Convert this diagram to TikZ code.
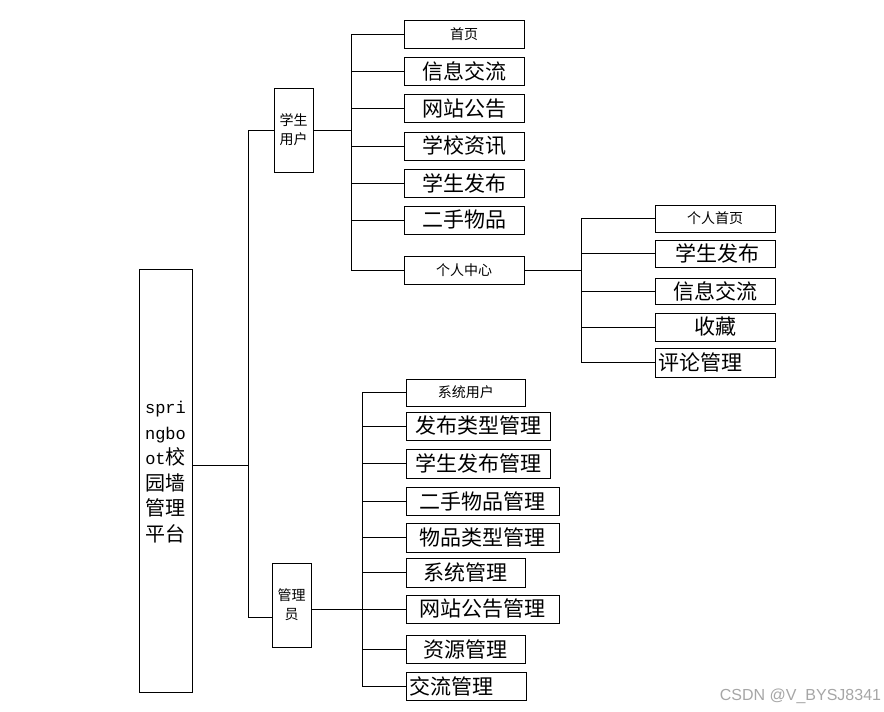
\documentclass[tikz,border=0pt]{standalone}
\usepackage{fontspec}
\newfontfamily\cjk{Noto Sans CJK SC}
\newfontfamily\wmfont{Liberation Sans}
\setmonofont{Liberation Mono}
\newcommand\bigzh{\cjk\fontsize{21}{21}\selectfont}
\newcommand\smallzh{\cjk\fontsize{14}{19}\selectfont}
\newcommand\lat[1]{{\ttfamily\fontsize{17}{25.5}\selectfont #1}}
\begin{document}
\begin{tikzpicture}[x=1pt,y=-1pt,line width=0.9pt,
	box/.style={draw,inner sep=0pt,minimum width=120pt,minimum height=28pt,font=\bigzh},
	smallbox/.style={box,font=\smallzh},
	tallbox/.style={draw,inner sep=0pt,minimum width=39pt,minimum height=84pt,align=center,font=\smallzh},
	leftbox/.style={box,text width=114pt,inner xsep=3pt,align=left},
	adminbox/.style={box,anchor=west}]
	\useasboundingbox (0,0) rectangle (884,712);
	\node[draw,minimum width=53pt,minimum height=423pt] (root) at (165.5,481) {};
	\node[align=center,font=\cjk\fontsize{20}{25.5}\selectfont] (roottxt) at (165.5,472) {\lat{spri}\\\lat{ngbo}\\\lat{ot}校\\园墙\\管理\\平台};
	\node[tallbox] (stu) at (293.5,130) {学生\\用户};
	\node[tallbox] (adm) at (291.5,605) {管理\\员};
	\node[smallbox] (s1) at (464,34) {首页};
	\node[box] (s2) at (464,71.5) {信息交流};
	\node[box] (s3) at (464,108.5) {网站公告};
	\node[box] (s4) at (464,146) {学校资讯};
	\node[box] (s5) at (464,183.5) {学生发布};
	\node[box] (s6) at (464,220) {二手物品};
	\node[smallbox] (pc) at (464,270) {个人中心};
	\node[smallbox,minimum height=27pt] (p1) at (715,218.5) {个人首页};
	\node[box,minimum height=27pt] (p2) at (715,253.5) {\hspace{4pt}学生发布};
	\node[box,minimum height=26pt] (p3) at (715,291) {信息交流};
	\node[box] (p4) at (715,327) {收藏};
	\node[leftbox,minimum height=29pt] (p5) at (715,362.5) {评论管理};
	\node[adminbox,smallbox,minimum width=119pt,minimum height=27pt] (a1) at (406,392.5) {系统用户};
	\node[adminbox,minimum width=144pt] (a2) at (406,426) {发布类型管理};
	\node[adminbox,minimum width=144pt,minimum height=29pt] (a3) at (406,463.5) {学生发布管理};
	\node[adminbox,minimum width=153pt] (a4) at (406,501) {二手物品管理};
	\node[adminbox,minimum width=153pt,minimum height=29pt] (a5) at (406,537.5) {物品类型管理};
	\node[adminbox,minimum width=119pt,minimum height=29pt] (a6) at (406,572.5) {系统管理};
	\node[adminbox,minimum width=153pt] (a7) at (406,609) {网站公告管理};
	\node[adminbox,minimum width=119pt] (a8) at (406,649) {资源管理};
	\node[adminbox,leftbox,text width=113pt] (a9) at (406,686) {交流管理};
	\node[font=\wmfont\fontsize{16}{16}\selectfont,text=black!35] (wm) at (800.5,696) {CSDN @V\_BYSJ8341};
	\coordinate (rj) at (248.5,465);
	\coordinate (sj) at (351,130);
	\coordinate (pj) at (581,270);
	\coordinate (aj) at (362,609);
	\draw (root.east |- rj) -- (rj);
	\draw (stu.west) -| (rj) |- ([yshift=-12pt]adm.west);
	\draw (stu.east) -- (sj);
	\foreach \n in {s1,s2,s3,s4,s5,s6,pc}
		\draw (sj) |- (\n.west);
	\draw (pc.east) -- (pj);
	\foreach \n in {p1,p2,p3,p4,p5}
		\draw (pj) |- (\n.west);
	\draw ([yshift=-4pt]adm.east) -- (aj);
	\foreach \n in {a1,a2,a3,a4,a5,a6,a7,a8,a9}
		\draw (aj) |- (\n.west);
\end{tikzpicture}
\end{document}
